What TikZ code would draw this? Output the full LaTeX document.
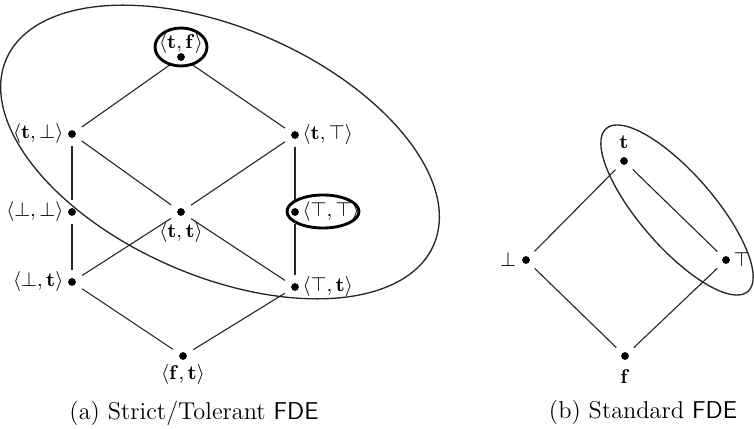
\documentclass[tikz,border=0pt]{standalone}
\usepackage{amsmath,amssymb}
\usepackage{tikz}
\usetikzlibrary{positioning}

\begin{document}
\begin{tikzpicture}[
    x=0.015873cm, y=-0.015873cm,
    dot/.style={circle, fill=black, inner sep=0pt, minimum size=3.5pt, outer sep=0pt},
    lbl/.style={inner sep=1pt, font=\small},
    edge/.style={draw=black!85, line width=0.5pt, shorten >=3.7pt, shorten <=3.7pt},
    globe/.style={draw=black!85, line width=0.6pt},
    desig/.style={draw=black, line width=1.3pt},
    caption/.style={font=\fontsize{11}{13}\selectfont}
]
\useasboundingbox (0,0) rectangle (754,429);

% Strict/Tolerant lattice (left)
\node[dot] (tf) at (181,57) {};
\node[dot] (tb) at (72,134) {};
\node[dot] (tT) at (295,135) {};
\node[dot] (bb) at (72,212) {};
\node[dot] (tt) at (181,212) {};
\node[dot] (TT) at (295,212) {};
\node[dot] (bt) at (72,282) {};
\node[dot] (Tt) at (295,287) {};
\node[dot] (ft) at (183,356) {};

\node[lbl, above=-1.5pt of tf] (tf_lbl) {$\langle\mathbf{t},\mathbf{f}\rangle$};
\node[lbl, left=1pt of tb] (tb_lbl) {$\langle\mathbf{t},\bot\rangle$};
\node[lbl, right=0.5pt of tT] (tT_lbl) {$\langle\mathbf{t},\top\rangle$};
\node[lbl, left=1pt of bb] (bb_lbl) {$\langle\bot,\bot\rangle$};
\node[lbl, below=1.8pt of tt] (tt_lbl) {$\langle\mathbf{t},\mathbf{t}\rangle$};
\node[lbl, right=0.5pt of TT] (TT_lbl) {$\langle\top,\top\rangle$};
\node[lbl, left=1pt of bt] (bt_lbl) {$\langle\bot,\mathbf{t}\rangle$};
\node[lbl, right=0.5pt of Tt] (Tt_lbl) {$\langle\top,\mathbf{t}\rangle$};
\node[lbl, below=1pt of ft] (ft_lbl) {$\langle\mathbf{f},\mathbf{t}\rangle$};

\draw[edge] (tf) -- (tb);
\draw[edge] (tf) -- (tT);
\draw[edge] (tb) -- (bb);
\draw[edge] (tb) -- (tt);
\draw[edge] (tT) -- (tt);
\draw[edge] (tT) -- (TT);
\draw[edge] (bb) -- (bt);
\draw[edge] (tt) -- (bt);
\draw[edge] (tt) -- (Tt);
\draw[edge] (TT) -- (Tt);
\draw[edge] (bt) -- (ft);
\draw[edge] (Tt) -- (ft);

% designated values
\draw[globe, rotate around={-23.5:(220,152)}] (220,152) ellipse [x radius=233, y radius=124];
\draw[desig] (181,47) ellipse [x radius=26, y radius=19];
\draw[desig] (323,211.5) ellipse [x radius=36, y radius=16.5];

% Standard lattice (right)
\node[dot] (t) at (624,161) {};
\node[dot] (b) at (526,260) {};
\node[dot] (T) at (726,260) {};
\node[dot] (f) at (625,356) {};

\node[lbl, above=2.6pt of t] (t_lbl) {$\mathbf{t}$};
\node[lbl, left=1.5pt of b] (b_lbl) {$\bot$};
\node[lbl, right=0.5pt of T] (T_lbl) {$\top$};
\node[lbl, below=3.3pt of f] (f_lbl) {$\mathbf{f}$};

\draw[edge] (t) -- (b);
\draw[edge] (t) -- (T);
\draw[edge] (b) -- (f);
\draw[edge] (T) -- (f);

\draw[globe, rotate around={-49:(677,210)}] (677,210) ellipse [x radius=108, y radius=37];

% captions
\node[caption] (cap_a) at (194,413) {(a) Strict/Tolerant \textsf{FDE}};
\node[caption] (cap_b) at (643,412) {(b) Standard \textsf{FDE}};

\end{tikzpicture}
\end{document}
